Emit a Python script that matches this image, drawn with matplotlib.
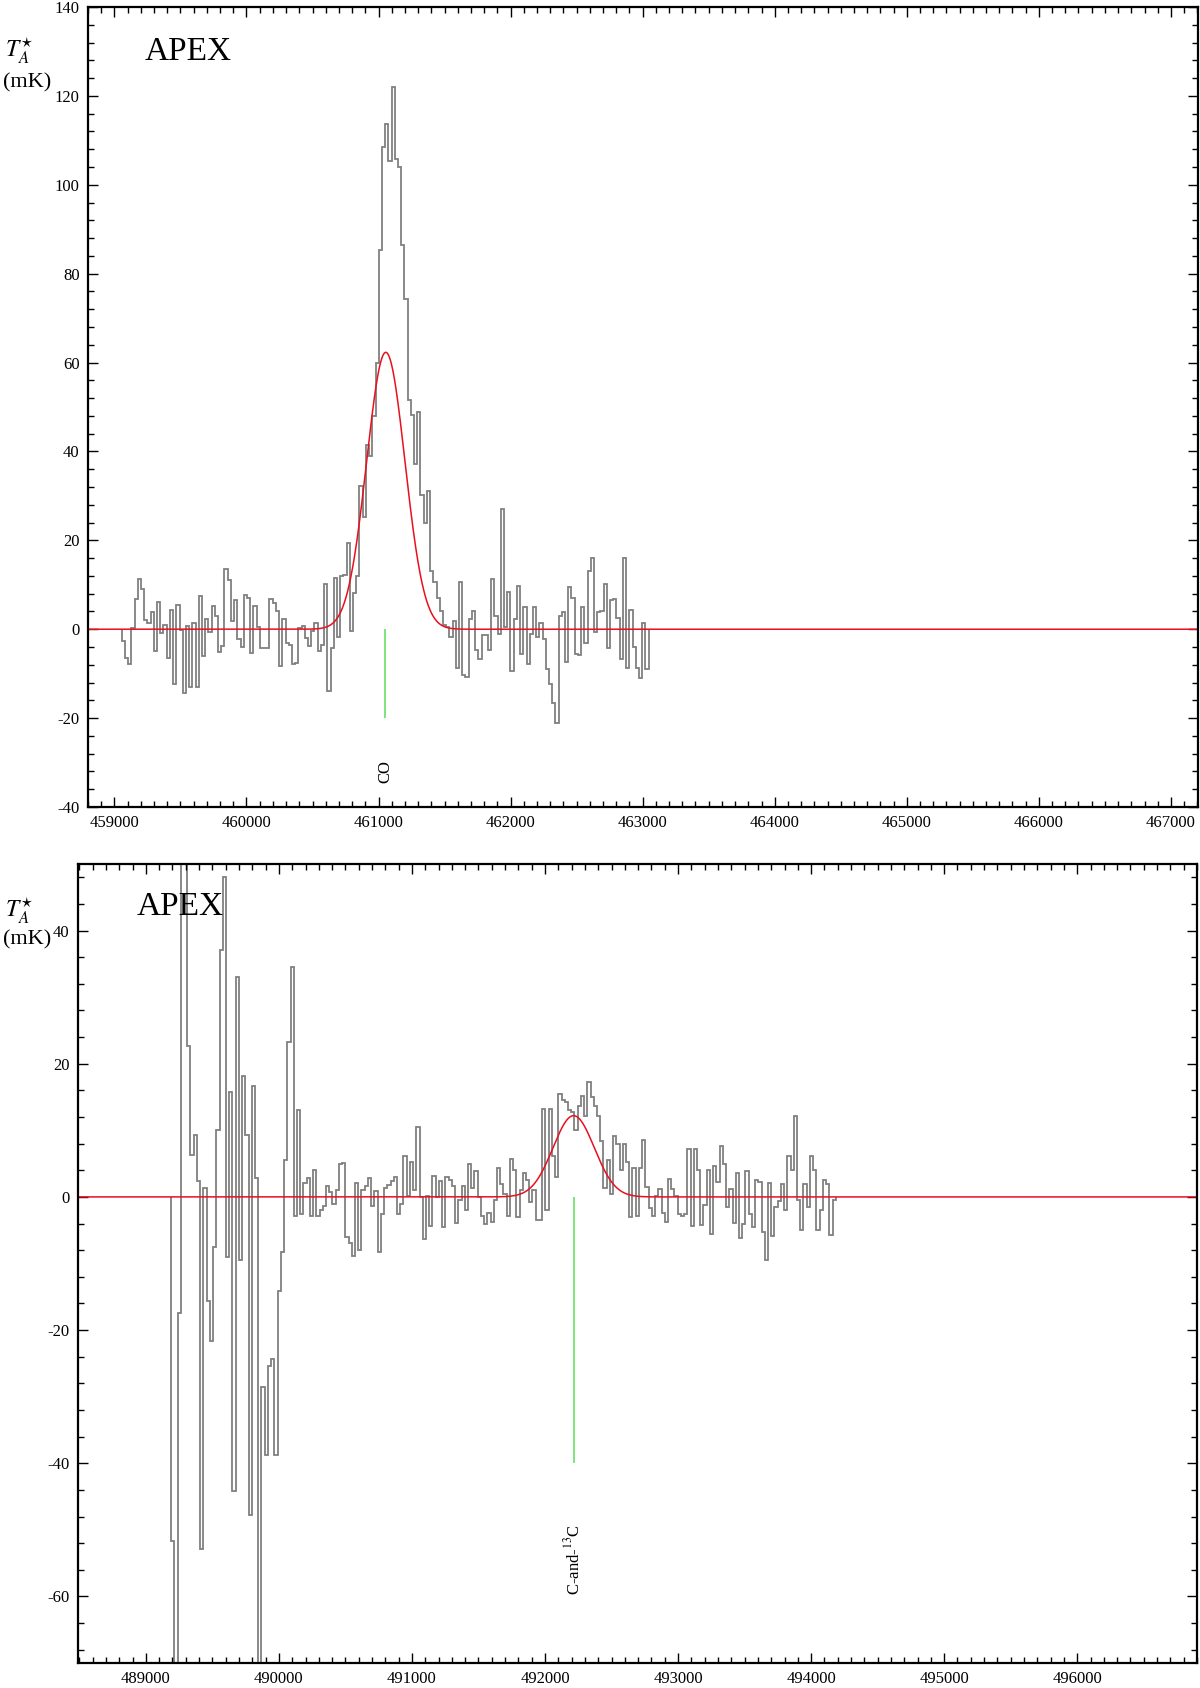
import numpy as np
import matplotlib
matplotlib.use("Agg")
import matplotlib.pyplot as plt
from matplotlib.ticker import MultipleLocator

plt.rcParams['font.family'] = ['Liberation Serif', 'DejaVu Serif']
plt.rcParams['mathtext.fontset'] = 'stix'
plt.rcParams['axes.unicode_minus'] = False

# ---------------- data: top panel (CO) ----------------
top_freq_start = 459055.0
top_freq_end = 463045.0
top_values = [
    -2.6, -6.5, -7.8, 0.2, 6.8, 11.4, 9.0, 2.0, 1.4, 3.9,
    -4.8, 6.2, -0.8, 0.9, -6.5, 4.4, -12.4, 5.5, -0.2, -14.3,
    0.7, -13.0, 1.5, -12.9, 7.4, -6.0, 2.3, -0.6, 5.2, 3.0,
    -5.2, -3.7, 13.6, 11.0, 1.8, 6.6, -2.2, -4.0, 7.6, 7.0,
    -5.3, 5.2, 0.6, -4.3, -4.3, -4.3, 6.8, 5.8, 4.0, -8.3,
    2.2, -3.1, -3.6, -7.9, -7.5, 0.2, 0.7, -2.0, -3.7, -0.5,
    1.5, -4.8, -3.5, 10.2, -13.9, -4.3, 11.6, -1.8, 12.0, 12.2,
    19.3, -0.5, 8.2, 12.0,
    32.2, 25.2, 41.4, 39.0, 48.0, 60.0, 85.3, 108.6, 113.6, 105.4,
    122.0, 105.8, 104.1, 86.5, 74.3, 51.6, 48.2, 37.1, 48.9, 30.3,
    23.8, 31.1,
    13.0, 10.6, 7.0, 4.0, 1.0, 0.5, -1.7, 1.8, -8.8, 10.6,
    -10.3, -10.8, 2.2, 4.2, -4.7, -6.7, -1.4, -1.4, -4.7, 11.4,
    3.0, -1.0, 27.0, 0.5, 8.4, -9.5, 2.2, 9.8, -5.5, 5.0,
    -7.9, -1.0, 5.0, -1.8, 1.5, -2.2, -9.0, -12.3, -16.7, -21.0,
    3.0, 3.8, -7.3, 9.6, 7.0, -5.5, -5.9, 5.0, -3.0, 13.2,
    16.0, -0.6, 3.8, 4.2, 10.2, -4.3, 6.6, 6.8, 2.5, -6.7,
    16.0, -8.8, 4.4, -4.1, -8.8, -11.0, 1.4, -9.0,
]
top_fit = dict(amp=62.3, center=461055.0, sigma=145.0)
top_line_freq = [461050.0]
top_line_ymin = [-20.0]
top_line_label = ["CO"]
top_label_y = -32.0
top_xlim = (458800, 467205)
top_ylim = (-40, 140)
top_xticks = [459000, 460000, 461000, 462000, 463000, 464000, 465000, 466000, 467000]
top_yticks = [-40, -20, 0, 20, 40, 60, 80, 100, 120, 140]

# ---------------- data: bottom panel ----------------
bot_freq_start = 489190.0
bot_freq_end = 494185.0
bot_values = [
    -51.7, -85.0, -17.4, 65.0, 58.0, 22.7, 6.3, 9.3, 2.4, -52.9,
    1.3, -15.7, -21.6, -7.5, 10.1, 37.1, 48.0, -9.0, 15.8, -44.1,
    33.0, -9.4, 18.1, 9.3, -47.7, 16.6, 2.8, -80.0, -28.5, -38.7,
    -25.4, -24.3, -38.7, -14.2, -8.2, 5.6, 23.2, 34.6, -2.9, 13.1,
    -2.5, 2.1, 2.8, -2.9, 4.1, -2.9, -2.0, -1.4, 1.7, 0.8,
    -1.0, 1.0, 5.0, 5.1, -6.0, -6.9, -8.8, 2.1, -7.9, 1.1,
    1.7, 2.8, -1.4, 0.9, -8.2, -2.5, 1.3, 1.8, 2.4, 3.0,
    -2.5, -1.0, 6.1, 0.2, 5.3, 1.1, 10.5, 0.0, -6.3, 0.2,
    -4.4, 3.2, 0.0, 2.4, -4.5,
    3.0, 2.6, 1.7, -3.9, -0.4, 1.6, -1.9, 5.0, 1.4, 3.9,
    0.0, -2.9, -4.0, -2.4, -3.7, -0.5, 4.4, 2.0, 0.5, -2.9,
    5.7, 4.0, -3.0, 1.1, 3.6, 2.5, -0.7, 1.0, -3.5, -3.5,
    13.2, -2.0, 13.2, 6.2, 3.0, 15.4, 14.5, 14.2, 13.1, 12.7,
    10.1, 13.7, 15.2, 12.1, 17.2, 15.0, 13.7, 12.1, 8.4, 1.4,
    5.6, 0.5, 9.1, 8.0, 4.1, 7.9, 5.2, -3.0, 4.4, -2.9,
    4.4, 8.6, 1.5, -1.7, -2.9, 0.1, 1.2, -2.4, -3.7, 2.7,
    1.2, 0.2, -2.5, -2.9, -2.5, 7.2, -4.4, 7.2, 4.0, -4.2,
    -1.2, 4.1, -5.5, 4.7, 2.2, 7.7, 5.0, -1.5, 1.2, -3.9,
    3.6, -6.2, -4.0, 3.9, -2.5, -4.5, 2.5, 2.2, -5.2, -9.5,
    2.1, -5.9, -1.5, -0.6, 1.9, -1.9, 6.1, 4.0, 12.1, -0.5,
    -5.0, 1.9, -1.5, 6.1, 4.1, -5.0, -1.9, 2.6, 1.9, -5.7,
    -0.5,
]
bot_fit = dict(amp=12.2, center=492215.0, sigma=155.0)
bot_line_freq = [492215.0]
bot_line_ymin = [-40.0]
bot_line_label = ["C-and-$^{13}$C"]
bot_label_y = -54.5
bot_xlim = (488490, 496900)
bot_ylim = (-70, 50)
bot_xticks = [489000, 490000, 491000, 492000, 493000, 494000, 495000, 496000]
bot_yticks = [-60, -40, -20, 0, 20, 40]

SPEC_COLOR = '#808080'
FIT_COLOR = '#e8101e'
LINE_COLOR = '#66e066'

fig = plt.figure(figsize=(12, 16.88), dpi=100)
ax1 = fig.add_axes([0.07333, 0.52192, 0.925, 0.47393])
ax2 = fig.add_axes([0.065, 0.01481, 0.9325, 0.47334])


def draw_panel(ax, fstart, fend, values, fit, lfreq, lymin, llabel, label_y,
               xlim, ylim, xticks, yticks, apex_xy):
    values = np.asarray(values, dtype=float)
    n = len(values)
    edges = np.linspace(fstart, fend, n + 1)
    ax.stairs(values, edges, color=SPEC_COLOR, lw=1.3, baseline=0)
    xf = np.linspace(xlim[0], xlim[1], 4000)
    yf = fit['amp'] * np.exp(-0.5 * ((xf - fit['center']) / fit['sigma']) ** 2)
    ax.plot(xf, yf, color=FIT_COLOR, lw=1.1)
    ax.vlines(lfreq, lymin, 0, color=LINE_COLOR, lw=1.2)
    for f, lab in zip(lfreq, llabel):
        ax.text(f, label_y, lab, rotation=90, ha='center', va='center', fontsize=12)
    ax.set_xlim(*xlim)
    ax.set_ylim(*ylim)
    ax.set_xticks(xticks)
    ax.set_xticklabels([str(t) for t in xticks])
    ax.set_yticks(yticks)
    ax.set_yticklabels([str(t) for t in yticks])
    ax.xaxis.set_minor_locator(MultipleLocator(100))
    ax.yaxis.set_minor_locator(MultipleLocator(4))
    ax.tick_params(which='both', direction='in', top=True, right=True,
                   labelsize=12, width=1.0, pad=6)
    ax.tick_params(which='major', length=7)
    ax.tick_params(which='minor', length=4)
    for sp in ax.spines.values():
        sp.set_linewidth(1.6)
    ax.text(apex_xy[0], apex_xy[1], 'APEX', transform=ax.transAxes,
            fontsize=24, ha='left', va='baseline')


draw_panel(ax1, top_freq_start, top_freq_end, top_values, top_fit,
           top_line_freq, top_line_ymin, top_line_label, top_label_y,
           top_xlim, top_ylim, top_xticks, top_yticks, (0.051, 0.934))
draw_panel(ax2, bot_freq_start, bot_freq_end, bot_values, bot_fit,
           bot_line_freq, bot_line_ymin, bot_line_label, bot_label_y,
           bot_xlim, bot_ylim, bot_xticks, bot_yticks, (0.052, 0.936))

# y-axis unit labels
for yT, ymK in [(0.966, 0.948), (0.4567, 0.4402)]:
    fig.text(0.004, yT, r'$T^{\star}_{A}$', fontsize=17, ha='left', va='baseline')
    fig.text(0.0025, ymK, '(mK)', fontsize=16, ha='left', va='baseline')

fig.savefig('out.png', dpi=100)
